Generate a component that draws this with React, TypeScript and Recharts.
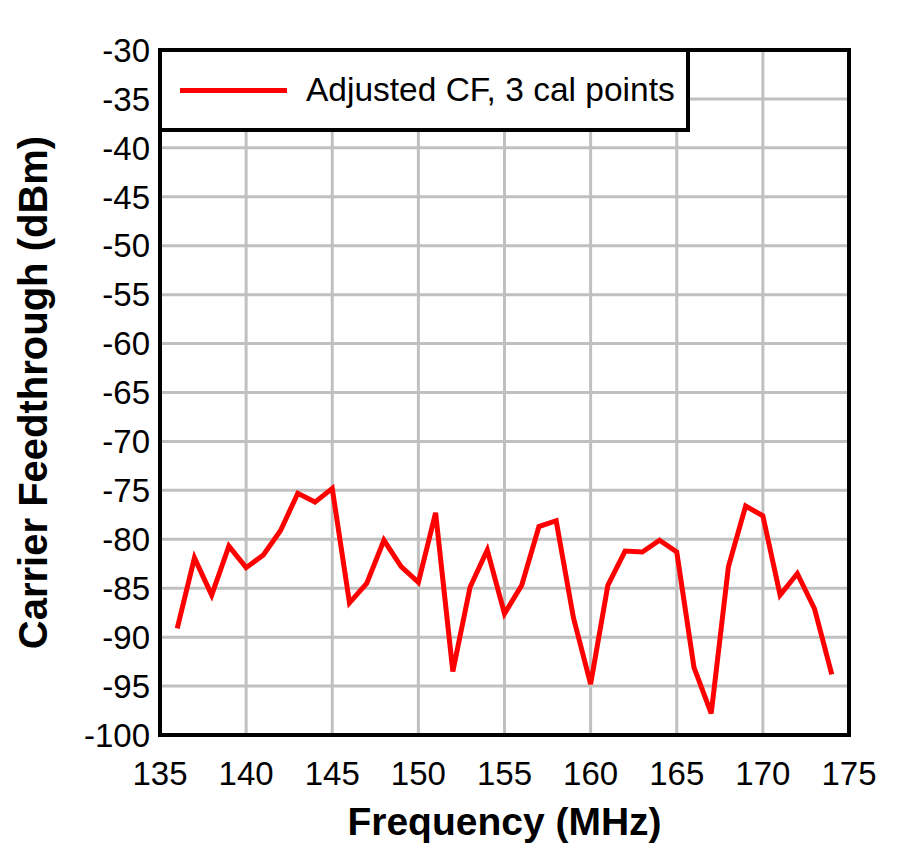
import { LineChart, Line, XAxis, YAxis, CartesianGrid, ReferenceArea } from "recharts";

const freqs = [
  136, 137, 138, 139, 140, 141, 142, 143, 144, 145, 146, 147, 148, 149, 150, 151, 152, 153, 154, 155,
  156, 157, 158, 159, 160, 161, 162, 163, 164, 165, 166, 167, 168, 169, 170, 171, 172, 173, 174,
];
const cf = [
  -89.1, -81.9, -85.7, -80.7, -82.9, -81.6, -79.1, -75.3, -76.2, -74.8, -86.5, -84.5, -80.1, -82.8, -84.4,
  -77.3, -93.5, -84.9, -81.1, -87.6, -84.7, -78.7, -78.1, -88.0, -94.8, -84.7, -81.2, -81.3, -80.1, -81.3,
  -93.1, -97.8, -82.8, -76.6, -77.6, -85.7, -83.5, -87.1, -93.8,
];
const xTicks = [135, 140, 145, 150, 155, 160, 165, 170, 175];
const yTicks = [-100, -95, -90, -85, -80, -75, -70, -65, -60, -55, -50, -45, -40, -35, -30];
const seriesName = "Adjusted CF, 3 cal points";

const data = freqs.map((f, i) => ({ f, cf: cf[i] }));

const font = "'Liberation Sans', Arial, sans-serif";
const tickStyle = { fill: "#000", fontSize: 33, fontFamily: font };

const LegendBox = () => (
  <div
    style={{
      position: "absolute",
      left: 158,
      top: 48,
      width: 524,
      height: 76,
      border: "4px solid #000",
      background: "#fff",
      display: "flex",
      alignItems: "center",
      fontFamily: font,
      fontSize: 33.5,
      color: "#000",
    }}
  >
    <div style={{ width: 107, height: 5, background: "#ff0000", marginLeft: 18, marginRight: 19 }} />
    <span>{seriesName}</span>
  </div>
);

const YTitle = (props: any) => {
  const vb = props.viewBox;
  const cy = vb.y + vb.height / 2;
  return (
    <text
      x={33}
      y={cy}
      transform={`rotate(-90, 33, ${cy})`}
      textAnchor="middle"
      dominantBaseline="central"
      fontFamily={font}
      fontWeight="bold"
      fontSize={40}
      fill="#000"
    >
      Carrier Feedthrough (dBm)
    </text>
  );
};

export default function App() {
  return (
    <div style={{ position: "absolute", left: 0, top: 0, width: 899, height: 851, background: "#fff" }}>
      <LineChart width={899} height={851} data={data} margin={{ top: 50, right: 50, bottom: 0, left: 0 }}>
        <CartesianGrid stroke="#c0c0c0" strokeWidth={3} vertical horizontal />
        <XAxis
          dataKey="f"
          type="number"
          domain={[135, 175]}
          ticks={xTicks}
          interval={0}
          height={116}
          tickSize={0}
          tickMargin={27}
          axisLine={false}
          tickLine={false}
          tick={tickStyle}
          label={{
            value: "Frequency (MHz)",
            position: "insideBottom",
            offset: 16,
            fill: "#000",
            fontSize: 39,
            fontWeight: "bold",
            fontFamily: font,
          }}
        />
        <YAxis
          type="number"
          domain={[-100, -30]}
          ticks={yTicks}
          interval={0}
          width={160}
          tickSize={0}
          tickMargin={10}
          axisLine={false}
          tickLine={false}
          tick={tickStyle}
          label={<YTitle />}
        />
        <ReferenceArea
          x1={135}
          x2={175}
          y1={-100}
          y2={-30}
          fill="none"
          fillOpacity={0}
          stroke="#000"
          strokeWidth={4}
          ifOverflow="visible"
        />
        <Line
          type="linear"
          dataKey="cf"
          name={seriesName}
          stroke="#ff0000"
          strokeWidth={5}
          dot={false}
          isAnimationActive={false}
        />
      </LineChart>
      <LegendBox />
    </div>
  );
}
